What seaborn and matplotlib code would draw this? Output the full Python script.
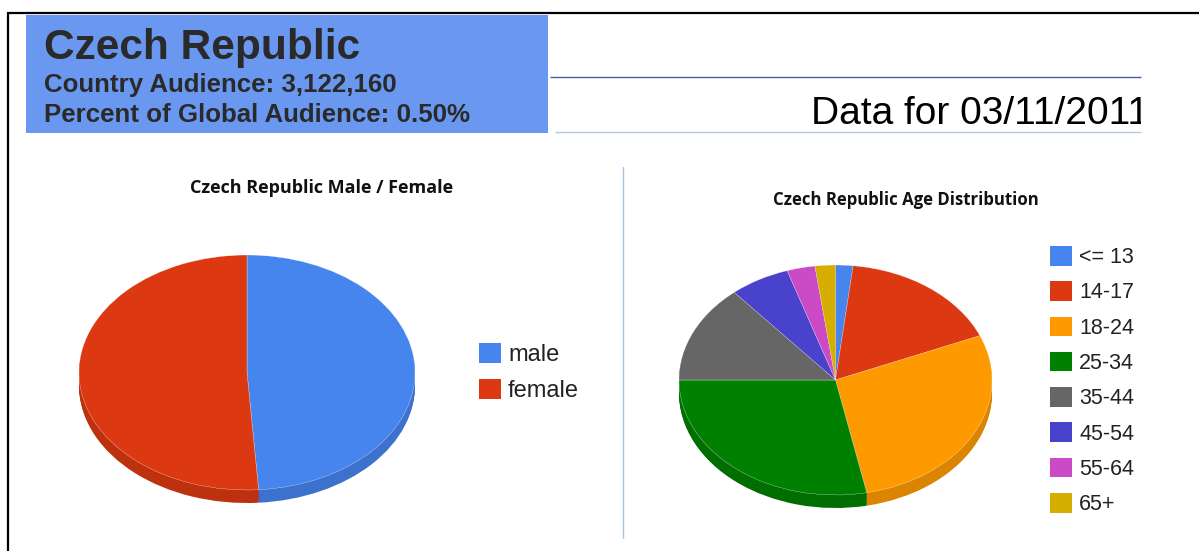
import matplotlib
matplotlib.use("Agg")
import matplotlib.pyplot as plt
from matplotlib.patches import Patch, Rectangle
import seaborn as sns

# CHART DATA
gender_labels = ["male", "female"]
gender_share = [48.9, 51.1]
age_labels = ["<= 13", "14-17", "18-24", "25-34", "35-44", "45-54", "55-64", "65+"]
age_share = [1.8, 16.9, 28.1, 28.2, 13.8, 6.2, 2.9, 2.1]

gender_colors = sns.color_palette(["#4684ee", "#dc3912"])
age_colors = sns.color_palette(
    ["#4684ee", "#dc3912", "#ff9900", "#008000", "#666666", "#4942cc", "#cb4ac5", "#d6ae00"]
)

W, H = 1199, 551

sns.set_theme(style="white")
plt.rcParams["font.family"] = ["Liberation Sans", "DejaVu Sans"]

fig = plt.figure(figsize=(W / 100, H / 100), dpi=100, facecolor="white")

# page furniture, in pixel coordinates
bg = fig.add_axes([0, 0, 1, 1])
bg.set_xlim(0, W)
bg.set_ylim(H, 0)
bg.axis("off")

bg.plot([7, W], [12.5, 12.5], color="black", lw=1.6, solid_capstyle="butt")
bg.plot([7.5, 7.5], [12, H], color="black", lw=1.6, solid_capstyle="butt")
bg.add_patch(Rectangle((26, 15), 522, 118, color="#6a98f0", lw=0))
bg.plot([550, 1141], [77, 77], color="#3f5f9e", lw=1, solid_capstyle="butt")
bg.plot([555, 1141], [132, 132], color="#b4cbe3", lw=1, solid_capstyle="butt")
bg.plot([622.5, 622.5], [167, 538], color="#a9c4de", lw=1)

bg.text(44, 48, "Czech Republic", fontsize=30.5, fontweight="bold", color="#2a2a2a", va="center")
bg.text(44, 85, "Country Audience: 3,122,160", fontsize=18.6, fontweight="bold", color="#2a2a2a", va="center")
bg.text(44, 114.5, "Percent of Global Audience: 0.50%", fontsize=18.6, fontweight="bold", color="#2a2a2a", va="center")

date_text = bg.text(811, 114, "Data for 03/11/2011", fontsize=28, color="black", va="center")
date_text.set_clip_path(Rectangle((800, 90), 341, 44, transform=bg.transData))
date_text.set_clip_on(True)

bg.text(322, 188, "Czech Republic Male / Female", fontsize=13, fontweight="bold",
        family="Open Sans", color="#111111", ha="center", va="center")
bg.text(906, 200, "Czech Republic Age Distribution", fontsize=12.1, fontweight="bold",
        family="Open Sans", color="#111111", ha="center", va="center")


def draw_pie(shares, colors, left, right, top, face_bottom, depth):
    # tilted pie: the axes is not square so the circle comes out as an ellipse
    box = [left / W, 1 - (face_bottom + depth) / H, (right - left) / W, (face_bottom + depth - top) / H]
    ax = fig.add_axes(box)
    ax.patch.set_alpha(0)
    ry = (face_bottom - top) / 2
    drop = depth / ry
    dark = [tuple(v * 0.86 for v in c) for c in colors]
    # stacked copies make the rim
    for i in range(depth, 0, -1):
        ax.pie(shares, colors=dark, startangle=90, counterclock=False,
               center=(0, -i / ry), radius=1, wedgeprops={"linewidth": 0})
    ax.pie(shares, colors=colors, startangle=90, counterclock=False,
           wedgeprops={"edgecolor": "white", "linewidth": 0.2})
    ax.set_aspect("auto")
    ax.set_xlim(-1, 1)
    ax.set_ylim(-1 - drop, 1)
    return ax


draw_pie(gender_share, gender_colors, 79, 415, 255, 490, 13)
draw_pie(age_share, age_colors, 679, 992, 265, 495, 13)


def add_legend(labels, colors, left, top, size, gap, pad):
    handles = [Patch(facecolor=c, edgecolor="none", label=l) for l, c in zip(labels, colors)]
    box = 22 / (size * 100 / 72)
    fig.legend(handles=handles, loc="upper left", bbox_to_anchor=(left / W, 1 - top / H),
               frameon=False, fontsize=size, handlelength=box, handleheight=box,
               handletextpad=pad, labelspacing=gap, borderpad=0, borderaxespad=0,
               labelcolor="#222222")


add_legend(gender_labels, gender_colors, 479, 343, 17, 0.53, 0.3)
add_legend(age_labels, age_colors, 1050, 246, 15.5, 0.61, 0.33)

fig.savefig("out.png", dpi=100)
